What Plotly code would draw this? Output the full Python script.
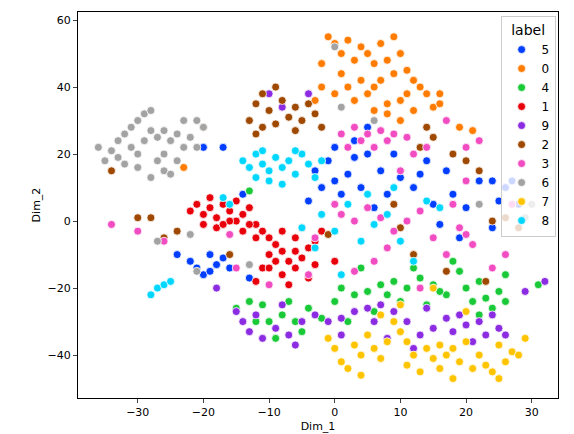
import plotly.graph_objects as go

labels = ["5","0","4","1","9","2","3","6","7","8"]
colors = {"5":"#023eff","0":"#ff7c00","4":"#1ac938","1":"#e8000b","9":"#8b2be2",
          "2":"#9f4800","3":"#f14cc1","6":"#a3a3a3","7":"#ffc400","8":"#00d7ff"}

pts_6 = [(-36,22),(-35,18),(-34,21),(-33,24),(-32,26),(-31,28),(-30,30),(-29,32),(-28,33),(-31,22),(-30,20),(-29,24),(-28,27),(-27,25),(-33,19),(-32,17),(-30,16),(-27,18),(-26,15),(-25,14),(-24,18),(-23,22),(-25,24),(-26,27),(-24,26),(-22,25),(-21,22),(-23,30),(-21,30),(-20,28),(-26,20),(-28,13),(-22,-4),(-27,-6),(-21,-15),(-13,-13),(1,34),(0,52),(6,30),(29,1),(22,5),(30,5)]
pts_5 = [(-22,-12),(-21,-14),(-20,-16),(-19,-15),(-18,-13),(-17,-11),(-16,-14),(-19,-10),(-24,-10),(-17,22),(-20,22),(-3,15),(-2,10),(-1,18),(0,12),(1,8),(2,14),(3,19),(4,10),(5,20),(6,4),(7,15),(8,8),(-4,6),(-5,20),(0,22),(3,24),(9,20),(10,13),(12,10),(13,14),(15,5),(16,-1),(18,8),(20,4),(22,12),(24,12),(25,6),(26,10),(27,12),(28,5),(24,-2),(19,-5),(14,18),(17,15),(-13,-17),(-14,8),(5,28)]
pts_0 = [(-1,55),(0,53),(1,50),(2,54),(3,48),(4,52),(5,50),(6,47),(7,53),(8,48),(9,55),(10,50),(11,45),(12,42),(13,40),(14,38),(10,36),(8,35),(6,40),(4,42),(2,40),(0,38),(-2,40),(-3,36),(1,44),(3,36),(5,38),(7,42),(9,44),(11,38),(12,33),(10,30),(8,32),(6,33),(15,34),(16,38),(19,28),(-2,47),(-20,28),(-23,16),(21,27),(16,35)]
pts_4 = [(-15,-26),(-13,-24),(-11,-25),(-10,-30),(-8,-28),(-6,-30),(-4,-26),(-2,-29),(0,-24),(1,-20),(3,-22),(5,-21),(7,-19),(9,-18),(11,-20),(13,-17),(15,-19),(17,-22),(19,-15),(20,-20),(22,-18),(23,-23),(24,-26),(25,-21),(26,-24),(22,-28),(14,-25),(10,-24),(6,-27),(2,-30),(-9,-35),(-5,-33),(31,-19),(26,-16),(18,-12),(12,-14),(8,-22),(16,-21),(-12,-30),(-7,-24),(-13,9),(4,-14),(21,-24)]
pts_1 = [(-22,3),(-21,5),(-20,2),(-19,4),(-18,1),(-17,5),(-16,3),(-15,0),(-14,2),(-13,4),(-12,-1),(-11,-3),(-10,-5),(-9,-7),(-8,-9),(-7,-12),(-6,-14),(-5,-11),(-4,-8),(-3,-6),(-2,-3),(-8,-16),(-7,-19),(-9,-12),(-10,-10),(-6,-5),(-5,-2),(-4,-17),(-11,-14),(-12,-18),(-20,-1),(-18,-2),(-16,0),(-14,-3),(-12,-5),(-10,-14),(-8,-3),(-6,-9),(-3,-13),(-13,-1),(-19,7),(-15,6),(-17,-1),(0,-12)]
pts_9 = [(-15,-27),(-14,-30),(-13,-33),(-12,-28),(-11,-35),(-9,-32),(-7,-34),(-5,-30),(-3,-28),(-1,-30),(1,-29),(3,-27),(5,-26),(7,-25),(9,-27),(11,-30),(13,-34),(15,-32),(17,-29),(18,-33),(19,-28),(20,-31),(21,-36),(22,-30),(23,-34),(24,-28),(25,-32),(26,-34),(12,-38),(8,-35),(-8,-25),(-10,38),(-8,34),(-4,38),(-18,-20),(32,-18),(29,-21),(14,-26),(-6,-37),(6,-30),(1,-34)]
pts_2 = [(-13,30),(-12,35),(-11,38),(-10,33),(-9,29),(-8,36),(-7,31),(-6,34),(-5,30),(-4,35),(-3,32),(-2,28),(-11,28),(-9,40),(-6,27),(-12,26),(-34,15),(-30,1),(-28,1),(-24,-3),(-26,-5),(-16,-10),(13,22),(15,25),(18,20),(20,18),(22,15),(24,0),(26,1),(28,-2),(17,-15),(23,-18),(12,-10),(10,-2),(9,5),(-1,-4),(14,28)]
pts_3 = [(1,26),(3,28),(4,24),(5,26),(6,22),(7,27),(8,24),(9,26),(2,22),(0,5),(1,2),(3,0),(5,4),(7,1),(9,-3),(11,0),(13,3),(15,-5),(17,-10),(19,-2),(21,-7),(22,24),(20,22),(17,30),(12,20),(10,15),(11,25),(14,22),(8,-8),(6,-12),(3,-15),(-26,-6),(-30,-3),(-34,-1),(-15,-14),(-10,-19),(-3,-5),(-16,-4),(-4,-16),(18,5),(20,12),(24,-14),(26,-10),(13,-20),(27,5),(20,-4)]
pts_7 = [(-1,-35),(0,-38),(1,-42),(2,-44),(3,-37),(4,-40),(5,-34),(6,-38),(7,-41),(8,-36),(9,-30),(10,-33),(11,-36),(12,-40),(13,-45),(14,-38),(15,-41),(16,-37),(17,-40),(18,-38),(19,-42),(20,-36),(21,-44),(22,-40),(23,-43),(24,-45),(25,-47),(26,-42),(27,-39),(28,-40),(29,-35),(18,-47),(16,-44),(4,-46),(20,-27),(15,-20),(7,-28),(10,-25),(25,-37),(11,-43)]
pts_8 = [(-14,18),(-13,16),(-12,20),(-11,17),(-10,15),(-9,19),(-8,16),(-7,18),(-6,14),(-5,20),(-4,17),(-3,13),(-12,13),(-10,12),(-8,11),(-6,21),(-11,21),(-2,18),(-28,-22),(-27,-20),(-26,-19),(-25,-18),(-17,7),(-16,5),(-2,2),(0,-3),(2,5),(4,-6),(6,-1),(8,2),(10,-6),(12,-12),(14,6),(16,4),(1,-16),(-3,-8),(5,8),(-5,-2),(9,10)]

data = {"5":pts_5,"0":pts_0,"4":pts_4,"1":pts_1,"9":pts_9,"2":pts_2,"3":pts_3,"6":pts_6,"7":pts_7,"8":pts_8}

fig = go.Figure()
for lab in labels:
    p = data[lab]
    fig.add_trace(go.Scatter(x=[a for a, b in p], y=[b for a, b in p], mode="markers", name=lab,
                             marker=dict(color=colors[lab], size=8, line=dict(color="white", width=0.8))))

ax = dict(showline=True, linecolor="black", mirror=True, ticks="outside", ticklen=4,
          showgrid=False, zeroline=False, tickfont=dict(size=11, color="black"),
          title_font=dict(size=11, color="black"), title_standoff=4)
fig.update_layout(
    width=574, height=434, paper_bgcolor="white", plot_bgcolor="white",
    margin=dict(l=70, r=24, t=4, b=44),
    font=dict(family="DejaVu Sans", size=11, color="black"),
    xaxis=dict(ax, range=[-39.1, 34], tickvals=[-30, -20, -10, 0, 10, 20, 30], title_text="Dim_1"),
    yaxis=dict(ax, range=[-52.8, 62.4], tickvals=[-40, -20, 0, 20, 40, 60], title_text="Dim_2"),
    legend=dict(title=dict(text="label", side="top center"), x=0.995, y=0.99, xanchor="right", yanchor="top",
                bgcolor="rgba(255,255,255,0.8)", bordercolor="#cccccc", borderwidth=1,
                font=dict(size=12), tracegroupgap=8),
)
fig.write_html("out.html")
